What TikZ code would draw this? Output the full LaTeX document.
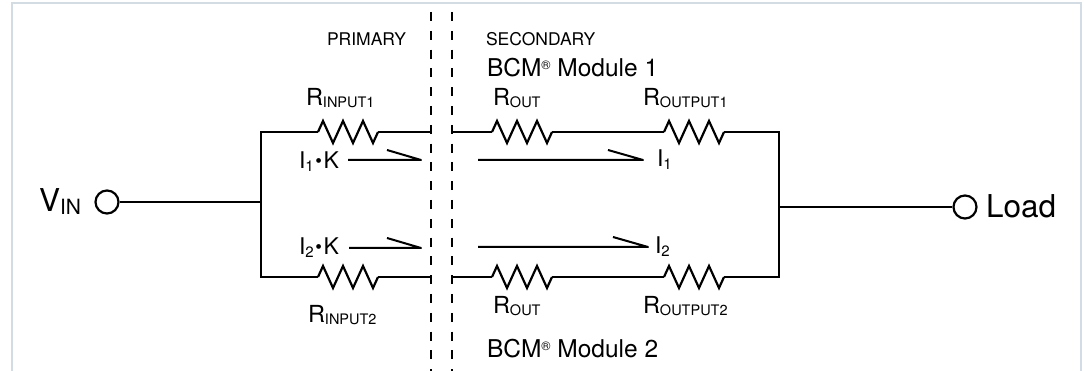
\documentclass[tikz,border=0pt]{standalone}
\usepackage{fontspec}
\setmainfont{TeX Gyre Heros}
\usetikzlibrary{decorations.pathmorphing}
\definecolor{framec}{HTML}{D3DCE3}
\newcommand\myRlab[2]{{\fontsize{23.5}{23}\selectfont #1}{\fontsize{14.5}{14}\selectfont\raisebox{-2pt}{#2}}}
\newcommand\myIlab[1]{{\fontsize{23}{23}\selectfont I}{\fontsize{15}{15}\selectfont\raisebox{-3pt}{#1}}}
\newcommand\myBCM[1]{{\fontsize{24.5}{24}\selectfont BCM\raisebox{7pt}{\fontsize{12.5}{12}\selectfont ®} Module #1}}
\newcommand\myDot{\,{\fontsize{19}{19}\selectfont\raisebox{1pt}{\textbullet}}\,}
\begin{document}
\begin{tikzpicture}[x=1pt,y=-1pt,
  wire/.style={line width=2.2pt, line join=miter},
  resistor/.style={line width=2.2pt, line join=miter, decorate,
    decoration={zigzag, segment length=20pt, amplitude=11pt}},
  sep/.style={line width=2.2pt, dash pattern=on 9pt off 9.8pt},
  arr/.style={line width=2pt, line join=round},
  lbl/.style={anchor=base west, inner sep=0pt, outer sep=0pt},
  term/.style={circle, draw, line width=2.2pt, minimum size=23pt, inner sep=0pt, fill=white},
]
\useasboundingbox (0,0) rectangle (1084,371);
% frame
\coordinate (f1) at (12,371); \coordinate (f2) at (12,3);
\coordinate (f3) at (1081,3); \coordinate (f4) at (1081,371);
\draw[framec, line width=1.5pt] (f1) -- (f2) -- (f3) -- (f4);

% top branch
\coordinate (tl) at (261,132);
\coordinate (ri1a) at (318,132); \coordinate (ri1b) at (378,132);
\coordinate (p1) at (431,132); \coordinate (s1) at (452,132);
\coordinate (ro1a) at (492,132); \coordinate (ro1b) at (552,132);
\coordinate (rp1a) at (664,132); \coordinate (rp1b) at (724,132);
\coordinate (tr) at (779,132);
% bottom branch
\coordinate (bl) at (261,277);
\coordinate (ri2a) at (318,277); \coordinate (ri2b) at (378,277);
\coordinate (p2) at (431,277); \coordinate (s2) at (452,277);
\coordinate (ro2a) at (492,277); \coordinate (ro2b) at (552,277);
\coordinate (rp2a) at (664,277); \coordinate (rp2b) at (724,277);
\coordinate (br) at (779,277);
% junctions
\coordinate (vj) at (261,202);
\coordinate (lj) at (779,207);
\node[term] (vin) at (107,202) {};
\node[term] (load) at (965,207) {};

\draw[wire] (vin) -- (vj);
\draw[wire] (ri1a) -- (tl) -- (bl) -- (ri2a);
\draw[resistor] (ri1a) -- (ri1b);
\draw[resistor] (ri2a) -- (ri2b);
\draw[wire] (ri1b) -- (p1);
\draw[wire] (ri2b) -- (p2);
\draw[wire] (s1) -- (ro1a);
\draw[wire] (s2) -- (ro2a);
\draw[resistor] (ro1a) -- (ro1b);
\draw[resistor] (ro2a) -- (ro2b);
\draw[wire] (ro1b) -- (rp1a);
\draw[wire] (ro2b) -- (rp2a);
\draw[resistor] (rp1a) -- (rp1b);
\draw[resistor] (rp2a) -- (rp2b);
\draw[wire] (rp1b) -- (tr) -- (br) -- (rp2b);
\draw[wire] (lj) -- (load);

% isolation barrier
\coordinate (d1t) at (431,12); \coordinate (d1b) at (431,371);
\coordinate (d2t) at (452,12); \coordinate (d2b) at (452,371);
\draw[sep] (d1t) -- (d1b);
\draw[sep] (d2t) -- (d2b);

% current arrows
\coordinate (k1t) at (348,160); \coordinate (k1h) at (421,160); \coordinate (k1b) at (387,150);
\draw[arr] (k1t) -- (k1h) -- (k1b);
\coordinate (i1t) at (478,160); \coordinate (i1h) at (643,160); \coordinate (i1b) at (608,150);
\draw[arr] (i1t) -- (i1h) -- (i1b);
\coordinate (k2t) at (349,248); \coordinate (k2h) at (421,248); \coordinate (k2b) at (387,238);
\draw[arr] (k2t) -- (k2h) -- (k2b);
\coordinate (i2t) at (478,247); \coordinate (i2h) at (648,247); \coordinate (i2b) at (613,237);
\draw[arr] (i2t) -- (i2h) -- (i2b);

% labels
\node[lbl] (prim) at (327,45.5) {\fontsize{17.5}{17}\selectfont PRIMARY};
\node[lbl] (sec) at (486,45.5) {\fontsize{17.5}{17}\selectfont SECONDARY};
\node[lbl] (bcm1) at (487,77) {\myBCM{1}};
\node[lbl] (bcm2) at (487,357) {\myBCM{2}};
\node[lbl] (lri1) at (306,106) {\myRlab{R}{INPUT1}};
\node[lbl] (lro1) at (493,106) {\myRlab{R}{OUT}};
\node[lbl] (lrp1) at (643,106) {\myRlab{R}{OUTPUT1}};
\node[lbl] (lri2) at (308,322) {\myRlab{R}{INPUT2}};
\node[lbl] (lro2) at (493,313) {\myRlab{R}{OUT}};
\node[lbl] (lrp2) at (643,313) {\myRlab{R}{OUTPUT2}};
\node[lbl] (lk1) at (299,168.5) {\myIlab{1}\myDot{\fontsize{23}{23}\selectfont K}};
\node[lbl] (lk2) at (299,255) {\myIlab{2}\myDot{\fontsize{23}{23}\selectfont K}};
\node[lbl] (li1) at (657,167) {\myIlab{1}};
\node[lbl] (li2) at (655,254) {\myIlab{2}};
\node[lbl] (lvin) at (39,212) {{\fontsize{31.5}{30}\selectfont V}{\fontsize{21}{20}\selectfont\raisebox{-3pt}{IN}}};
\node[lbl] (lload) at (986,218) {\fontsize{31.5}{32}\selectfont Load};
\end{tikzpicture}
\end{document}
